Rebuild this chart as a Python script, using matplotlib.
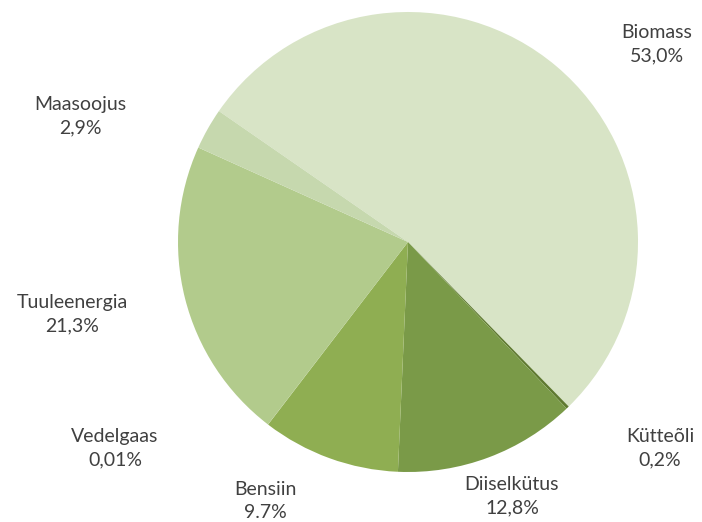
import matplotlib
matplotlib.use('Agg')
import matplotlib.pyplot as plt

# energy sources, clockwise from the top-left
labels = ['Biomass', 'Kütteõli', 'Diiselkütus', 'Bensiin', 'Vedelgaas', 'Tuuleenergia', 'Maasoojus']
shares = [53.0, 0.2, 12.8, 9.7, 0.01, 21.3, 2.9]
share_text = ['53,0%', '0,2%', '12,8%', '9.7%', '0,01%', '21,3%', '2,9%']
colors = ['#d8e4c6', '#5f7a30', '#7a9a48', '#8fae52', '#a4c070', '#b2cb8c', '#c6d8ae']

# label centres in pixels of the 702x522 picture
label_px = [(657, 44), (660, 448), (512, 496), (265, 501), (115, 448), (72, 314), (80, 116)]

W, H = 702, 522
cx, cy, r = 408, 242, 230

fig = plt.figure(figsize=(W / 100, H / 100), dpi=100)
ax = fig.add_axes([(cx - r) / W, (H - cy - r) / H, 2 * r / W, 2 * r / H])
ax.pie(shares, colors=colors, startangle=145.3, counterclock=False,
       radius=1, wedgeprops=dict(linewidth=0))
ax.set_xlim(-1, 1)
ax.set_ylim(-1, 1)
ax.set_aspect('equal')
ax.axis('off')

for name, txt, (px, py) in zip(labels, share_text, label_px):
    fig.text(px / W, 1 - py / H, f'{name}\n{txt}', ha='center', va='center',
             fontsize=14, family=['Lato', 'DejaVu Sans'], color='#404040',
             linespacing=1.45)

fig.savefig('out.png', dpi=100)
